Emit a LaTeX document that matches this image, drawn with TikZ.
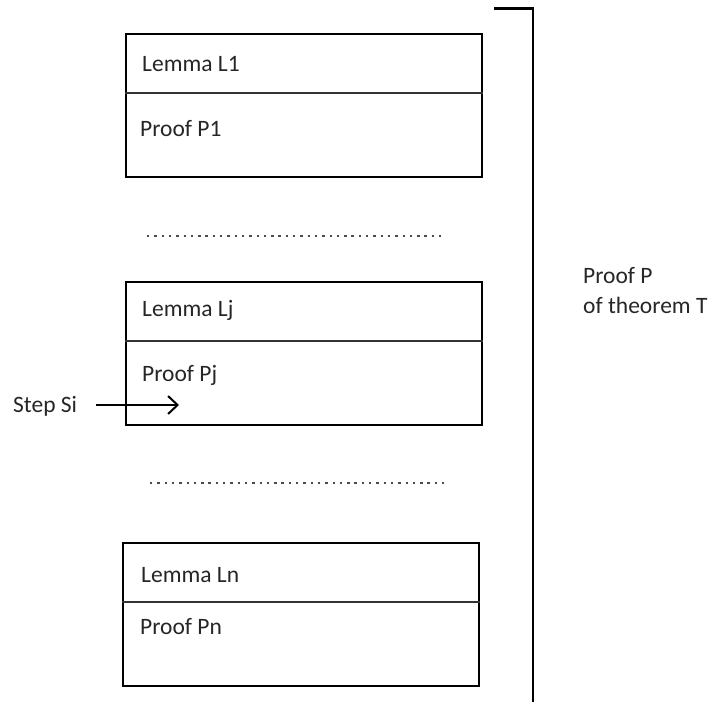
\documentclass[tikz,border=0pt]{standalone}
\usepackage{fontspec}
\setmainfont{Carlito}
\usetikzlibrary{arrows.meta}
\begin{document}
\begin{tikzpicture}[x=1pt,y=-1pt,
  lemmabox/.style={draw=black,line width=2.6pt,minimum width=356pt,minimum height=143pt,inner sep=0pt},
  txt/.style={anchor=base west,inner sep=0pt,font=\fontsize{23.5}{28}\selectfont,text=black!85},
  divider/.style={line width=1.5pt,draw=black!80},
  dotrow/.style={line width=2.4pt,draw=black!70,dash pattern=on 2.4pt off 4.9pt}]
\useasboundingbox (0,0) rectangle (713,702);
% boxes
\node[lemmabox] (b1) at (304,105.5) {};
\node[lemmabox] (b2) at (304,353.5) {};
\node[lemmabox] (b3) at (301,614.5) {};
% dividers
\draw[divider] (b1.west |- 0,93) -- (b1.east |- 0,93);
\draw[divider] (b2.west |- 0,341) -- (b2.east |- 0,341);
\draw[divider] (b3.west |- 0,602) -- (b3.east |- 0,602);
% texts
\node[txt] (l1) at (142,71) {Lemma L1};
\node[txt] (p1) at (140,136) {Proof P1};
\node[txt] (lj) at (142,316) {Lemma Lj};
\node[txt] (pj) at (142,381) {Proof Pj};
\node[txt] (ln) at (141,582) {Lemma Ln};
\node[txt] (pn) at (140,634) {Proof Pn};
\node[txt] (si) at (13,412) {Step Si};
\node[txt] (pp) at (583,283) {Proof P};
\node[txt] (th) at (583,313) {of theorem T};
% dotted rows
\coordinate (d1a) at (147,236);
\coordinate (d1b) at (441,236);
\coordinate (d2a) at (150,483);
\coordinate (d2b) at (444,483);
\draw[dotrow] (d1a) -- (d1b);
\draw[dotrow] (d2a) -- (d2b);
% arrow
\coordinate (sa) at (96,405);
\coordinate (sb) at (179,405);
\draw[line width=2pt,-{Straight Barb[length=9.5pt,width=18pt,line width=2pt]}] (sa) -- (sb);
% bracket
\coordinate (br1) at (494,8.5);
\coordinate (br2) at (533,8.5);
\coordinate (br3) at (533,702);
\draw[line width=2.6pt] (br1) -- (br2) -- (br3);
\end{tikzpicture}
\end{document}
